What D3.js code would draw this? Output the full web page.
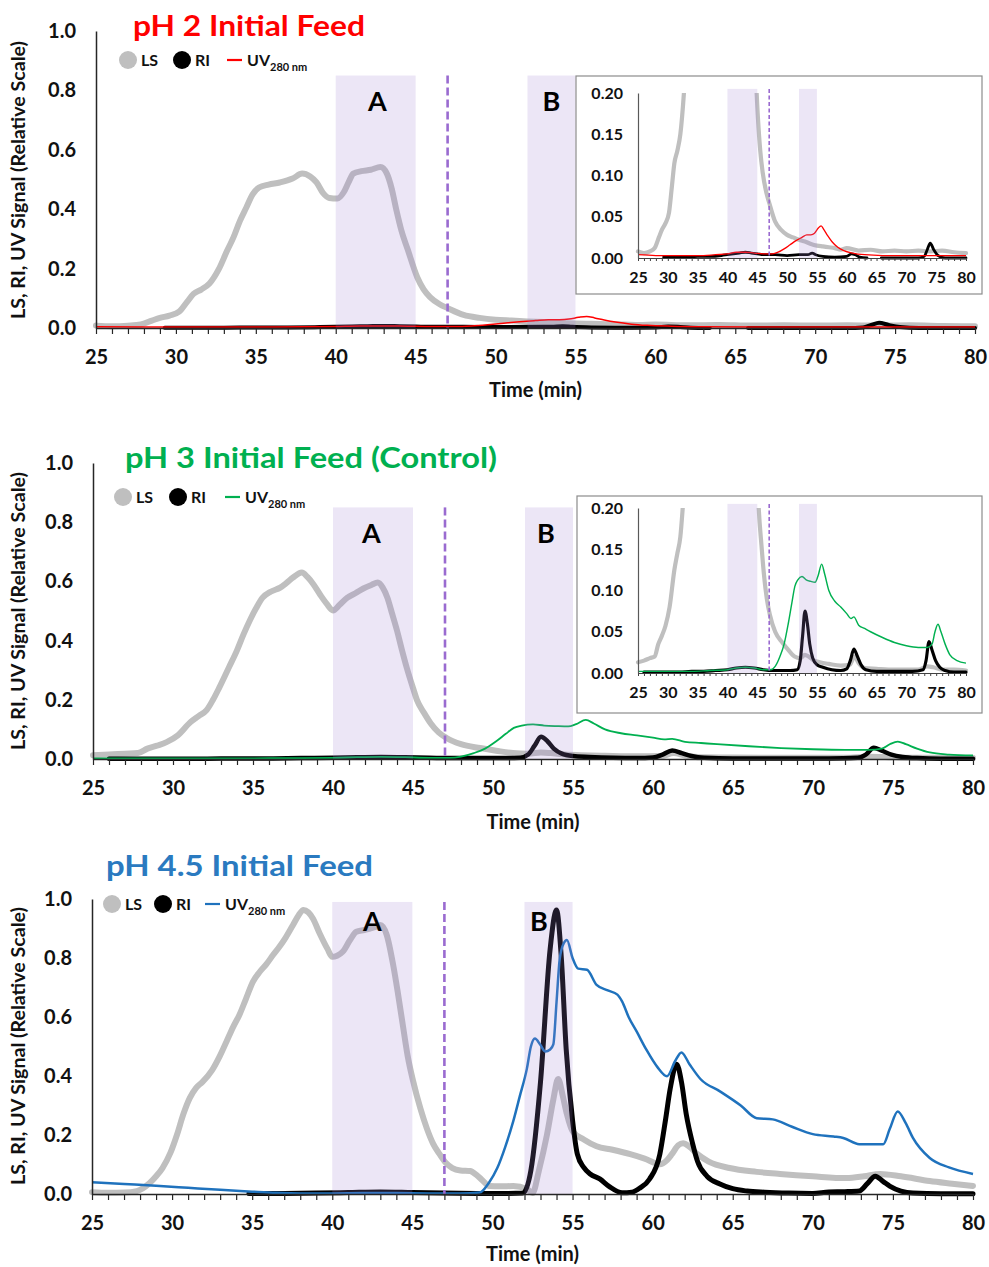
<!DOCTYPE html>
<html>
<head>
<meta charset="utf-8">
<script src="https://cdn.jsdelivr.net/npm/d3@7"></script>
<style>
  body { margin: 0; background: #fff; }
  svg text { font-family: Lato, "Open Sans", "Liberation Sans", sans-serif; font-weight: 700; }
</style>
</head>
<body>
<svg id="chart" width="989" height="1267"></svg>
<script>
// ---------- data: [time (min), relative signal] ----------
const panelTitles = ["pH 2 Initial Feed", "pH 3 Initial Feed (Control)", "pH 4.5 Initial Feed"];
const xTickValues = d3.range(25, 81, 1);
const yTicksMain = [0, 0.2, 0.4, 0.6, 0.8, 1.0];
const yTicksInset = [0, 0.05, 0.10, 0.15, 0.20];
const regionA = [40, 45];
const regionB = [52, 55];
const cutTime = 47;

// pH 2
const ph2LS = [[25,0.008],[26,0.006],[27,0.008],[27.8,0.012],[28.5,0.025],[29,0.034],[29.6,0.042],[30.2,0.055],[30.7,0.088],[31.1,0.115],[31.6,0.13],[32.1,0.15],[32.7,0.2],[33.2,0.26],[33.6,0.305],[34,0.36],[34.4,0.405],[34.8,0.45],[35.2,0.473],[35.8,0.483],[36.5,0.49],[37.3,0.503],[37.9,0.52],[38.4,0.51],[38.8,0.49],[39.2,0.455],[39.6,0.438],[40.1,0.436],[40.5,0.457],[40.8,0.49],[41.1,0.52],[41.6,0.528],[42.2,0.533],[42.8,0.542],[43.2,0.52],[43.5,0.47],[43.8,0.396],[44.1,0.33],[44.5,0.265],[45.1,0.171],[45.5,0.13],[45.9,0.104],[46.5,0.08],[47,0.067],[48,0.044],[49,0.034],[50,0.028],[51,0.025],[52,0.022],[53,0.02],[54,0.017],[55,0.015],[56,0.014],[57,0.013],[58,0.012],[59,0.01],[60,0.012],[62,0.009],[64,0.01],[66,0.008],[68,0.009],[70,0.008],[72,0.009],[74,0.008],[76,0.009],[78,0.007],[80,0.006]];
const ph2RI = [[29.3,0.001],[31,0.001],[33,0.001],[35,0.002],[37,0.002],[39,0.003],[40,0.004],[41,0.005],[42,0.006],[43,0.007],[44,0.006],[45,0.005],[46,0.004],[47,0.004],[48,0.004],[50,0.003],[52,0.004],[53.5,0.004],[54.2,0.006],[54.8,0.004],[56,0.002],[58,0.001],[60,0.002],[60.8,0.005],[61.4,0.004],[62.2,0.001],[63.4,0],[63.5,null],[65.7,null],[65.8,0],[68,0],[70,0],[72,0],[73,0.002],[73.5,0.01],[74,0.018],[74.6,0.01],[75.3,0.003],[76.5,0],[78,0],[80,0]];
const ph2UV = [[25,0.004],[28,0.003],[30,0.003],[33,0.003],[36,0.003],[38,0.004],[40,0.005],[41.5,0.007],[43,0.007],[44.5,0.006],[46,0.005],[47.5,0.005],[48.5,0.007],[49.5,0.011],[50.5,0.016],[51.5,0.021],[52.5,0.025],[53.3,0.028],[54,0.028],[54.6,0.03],[55.2,0.036],[55.7,0.039],[56.2,0.034],[56.8,0.027],[57.5,0.02],[58.5,0.013],[59.5,0.009],[61,0.006],[63,0.004],[66,0.003],[70,0.003],[74,0.003],[77,0.003],[80,0.003]];

// pH 3 (control)
const ph3LS = [[25,0.013],[26,0.015],[27,0.018],[27.8,0.02],[28.4,0.035],[29,0.045],[29.6,0.057],[30.3,0.08],[31.1,0.125],[31.6,0.145],[32.1,0.165],[32.5,0.2],[32.9,0.242],[33.5,0.31],[34,0.367],[34.4,0.42],[34.8,0.468],[35.2,0.51],[35.6,0.545],[36.1,0.565],[36.7,0.579],[37.1,0.595],[37.5,0.613],[38.05,0.63],[38.4,0.615],[38.75,0.592],[39.2,0.555],[39.6,0.525],[40,0.502],[40.4,0.52],[40.9,0.545],[41.4,0.56],[41.9,0.576],[42.4,0.588],[42.8,0.596],[43.1,0.58],[43.4,0.545],[43.7,0.49],[44,0.434],[44.3,0.37],[44.6,0.31],[45,0.24],[45.25,0.199],[45.7,0.155],[46.1,0.121],[46.6,0.09],[47.1,0.071],[48,0.05],[49.2,0.037],[50.2,0.028],[51.25,0.02],[52.2,0.018],[53,0.022],[53.6,0.02],[54.5,0.015],[55.5,0.013],[57,0.011],[59,0.009],[60.5,0.01],[61.3,0.02],[62,0.012],[63,0.006],[65,0.005],[67,0.004],[70,0.004],[72,0.004],[73.5,0.008],[74.5,0.007],[76,0.004],[78,0.004],[80,0.003]];
const ph3RI = [[26,0.001],[28,0.001],[30,0.001],[32,0.001],[34,0.002],[36,0.002],[38,0.003],[40,0.004],[41.5,0.006],[43,0.007],[44.5,0.006],[46,0.004],[47.5,0.003],[49,0.003],[50.5,0.003],[51.7,0.004],[52.2,0.015],[52.6,0.045],[53,0.075],[53.4,0.06],[53.8,0.035],[54.3,0.018],[55,0.01],[56,0.007],[57.5,0.004],[59,0.003],[60,0.005],[60.6,0.015],[61.2,0.029],[61.8,0.02],[62.4,0.01],[63.2,0.004],[65,0.002],[68,0.002],[71,0.002],[72.8,0.004],[73.3,0.015],[73.8,0.038],[74.3,0.028],[74.9,0.015],[75.6,0.007],[76.5,0.003],[78,0.001],[80,0.001]];
const ph3UV = [[25,0.002],[28,0.002],[31,0.002],[34,0.002],[37,0.003],[40,0.004],[41.5,0.006],[43,0.007],[44.5,0.006],[46,0.004],[47.3,0.004],[48,0.008],[48.8,0.02],[49.5,0.035],[50.2,0.06],[50.8,0.085],[51.3,0.105],[51.8,0.113],[52.5,0.117],[53.2,0.113],[54,0.111],[54.7,0.11],[55.2,0.118],[55.8,0.132],[56.3,0.12],[57,0.1],[58,0.087],[59,0.08],[60,0.072],[60.7,0.066],[61.2,0.068],[62,0.058],[63,0.054],[64,0.05],[66,0.043],[68,0.037],[70,0.033],[72,0.031],[73.5,0.031],[74.3,0.035],[74.8,0.05],[75.3,0.059],[75.8,0.05],[76.5,0.035],[77.3,0.022],[78.5,0.015],[80,0.012]];

// pH 4.5
const ph45LS = [[25,0.006],[26,0.004],[27,0.005],[27.8,0.01],[28.6,0.037],[29,0.06],[29.4,0.088],[29.9,0.14],[30.3,0.2],[30.7,0.27],[31.1,0.325],[31.5,0.36],[31.9,0.38],[32.5,0.42],[33,0.47],[33.4,0.517],[33.8,0.565],[34.2,0.607],[34.6,0.66],[35.05,0.72],[35.5,0.755],[35.9,0.78],[36.3,0.81],[36.7,0.838],[37.1,0.87],[37.55,0.912],[37.9,0.945],[38.2,0.963],[38.5,0.955],[38.8,0.933],[39.2,0.885],[39.7,0.831],[40,0.804],[40.3,0.808],[40.65,0.821],[41.1,0.86],[41.5,0.889],[42,0.895],[42.35,0.9],[42.7,0.905],[43,0.912],[43.4,0.878],[43.8,0.777],[44.1,0.68],[44.4,0.574],[44.7,0.47],[45.05,0.382],[45.5,0.29],[45.9,0.223],[46.3,0.17],[46.7,0.135],[47.1,0.105],[47.5,0.088],[48,0.08],[48.6,0.078],[49,0.065],[49.4,0.045],[49.8,0.027],[50.5,0.026],[51.3,0.027],[52.15,0.017],[52.5,0.003],[52.9,0.08],[53.4,0.2],[53.8,0.32],[54.1,0.39],[54.4,0.33],[54.65,0.27],[55,0.213],[55.7,0.185],[56.5,0.162],[57.5,0.15],[58.6,0.135],[59.5,0.12],[60.45,0.101],[60.9,0.115],[61.2,0.135],[61.6,0.165],[61.9,0.172],[62.3,0.16],[62.8,0.135],[63.5,0.11],[64.8,0.088],[66.5,0.075],[67.95,0.068],[70,0.06],[72.1,0.054],[73.2,0.06],[74.2,0.068],[75.5,0.06],[77.3,0.044],[78.7,0.035],[80,0.027]];
const ph45RI = [[34.8,0.002],[37,0.002],[39,0.003],[41,0.005],[43,0.007],[45,0.005],[47,0.003],[49,0.002],[51,0.002],[51.9,0.003],[52.4,0.08],[53,0.38],[53.6,0.83],[54,0.963],[54.3,0.8],[54.6,0.493],[55,0.25],[55.3,0.135],[55.7,0.09],[56.1,0.068],[56.7,0.051],[57.3,0.025],[58.1,0.004],[58.7,0.006],[59.2,0.02],[59.8,0.05],[60.45,0.135],[60.8,0.25],[61.1,0.358],[61.5,0.44],[61.8,0.38],[62.1,0.27],[62.5,0.17],[62.8,0.111],[63.4,0.06],[64.2,0.034],[65,0.018],[65.9,0.01],[67,0.006],[68.5,0.003],[70,0.002],[71,0.007],[72,0.008],[72.9,0.01],[73.4,0.035],[73.9,0.06],[74.4,0.042],[74.8,0.027],[75.5,0.01],[76.25,0.003],[78,0.001],[80,0.001]];
const ph45UV = [[25,0.04],[27,0.034],[29,0.028],[31,0.021],[33,0.014],[35,0.008],[36.5,0.004],[38,0.002],[40,0.002],[42,0.003],[44,0.003],[46,0.002],[48,0.002],[49.2,0.005],[49.8,0.04],[50.3,0.088],[50.8,0.16],[51.3,0.247],[51.7,0.33],[52.15,0.425],[52.4,0.5],[52.65,0.527],[53,0.505],[53.3,0.483],[53.6,0.49],[53.8,0.507],[54,0.65],[54.2,0.797],[54.45,0.85],[54.65,0.861],[55,0.8],[55.35,0.764],[55.9,0.76],[56.5,0.709],[57.2,0.69],[57.8,0.676],[58.1,0.652],[58.5,0.6],[59,0.551],[59.6,0.49],[60.3,0.43],[60.9,0.399],[61.4,0.45],[61.8,0.48],[62.3,0.44],[63,0.389],[64.2,0.348],[65.5,0.3],[66.5,0.257],[67.5,0.253],[68.7,0.228],[70,0.203],[71.3,0.195],[71.9,0.19],[72.9,0.169],[74.4,0.169],[74.8,0.22],[75.3,0.28],[75.8,0.24],[76.25,0.19],[77.3,0.122],[78.5,0.09],[80,0.068]];

// ---------- layout and styling ----------
const LS_COLOR = "#bfbfbf";
const RI_COLOR = "#000000";
const BAND_FILL = "rgba(160,130,210,0.2)";
const CUT_COLOR = "#9a6bd0";

const panels = [
  { series: { ls: ph2LS, ri: ph2RI, uv: ph2UV }, uvColor: "#ff0000", titleColor: "#ff0000",
    x0: 96, x1: 975, yBase: 328, yOne: 31, bandTop: 0.85,
    title: { x: 133, y: 36, w: 232 }, legend: { y: 60, ls: 128, ri: 182, uv: 227 },
    labA: 42.6, labB: 53.5, labY: 111, xTitleY: 397, yTitleY: 180,
    lsW: 6, riW: 4, uvW: 1.5,
    inset: { box: [576, 76, 406, 218], x0: 638, x1: 966, yBase: 258, yTop: 93 } },
  { series: { ls: ph3LS, ri: ph3RI, uv: ph3UV }, uvColor: "#00b050", titleColor: "#00b050",
    x0: 93, x1: 973, yBase: 759, yOne: 463, bandTop: 0.85,
    title: { x: 125, y: 468, w: 372 }, legend: { y: 497, ls: 123, ri: 178, uv: 225 },
    labA: 42.4, labB: 53.3, labY: 543, xTitleY: 829, yTitleY: 611,
    lsW: 6, riW: 4.5, uvW: 1.8,
    inset: { box: [577, 496, 405, 217], x0: 638, x1: 966, yBase: 673, yTop: 508 } },
  { series: { ls: ph45LS, ri: ph45RI, uv: ph45UV }, uvColor: "#1f72bd", titleColor: "#2a7ac0",
    x0: 92, x1: 973, yBase: 1194, yOne: 899, bandTop: 0.99,
    title: { x: 106, y: 876, w: 267 }, legend: { y: 904, ls: 112, ri: 163, uv: 205 },
    labA: 42.5, labB: 52.9, labY: 931, xTitleY: 1261, yTitleY: 1046,
    lsW: 6, riW: 5, uvW: 2.5,
    inset: null }
];

const svg = d3.select("#chart");
const defs = svg.append("defs");

function makeLine(x, y) {
  return d3.line()
    .defined(d => d[1] !== null)
    .x(d => x(d[0]))
    .y(d => y(d[1]))
    .curve(d3.curveMonotoneX);
}

function drawTraces(g, s, x, y, p, scale) {
  const line = makeLine(x, y);
  g.append("path").datum(s.ls).attr("d", line)
    .attr("fill", "none").attr("stroke", LS_COLOR)
    .attr("stroke-width", p.lsW * scale).attr("stroke-linejoin", "round").attr("stroke-linecap", "round");
  g.append("path").datum(s.ri).attr("d", line)
    .attr("fill", "none").attr("stroke", RI_COLOR)
    .attr("stroke-width", p.riW * scale).attr("stroke-linejoin", "round").attr("stroke-linecap", "round");
  g.append("path").datum(s.uv).attr("d", line)
    .attr("fill", "none").attr("stroke", p.uvColor)
    .attr("stroke-width", Math.max(1.3, p.uvW * (scale < 1 ? 0.8 : 1))).attr("stroke-linejoin", "round");
}

function drawBands(g, x, y, top) {
  [regionA, regionB].forEach(r => {
    g.append("rect")
      .attr("x", x(r[0])).attr("width", x(r[1]) - x(r[0]))
      .attr("y", y(top)).attr("height", y(0) - y(top))
      .attr("fill", BAND_FILL);
  });
}

function styleAxisText(sel, size) {
  sel.attr("font-family", null);
  sel.selectAll("text").attr("font-size", size).attr("fill", "#111")
    .style("font-family", "Lato, 'Open Sans', sans-serif").style("font-weight", 700);
}

panels.forEach((p, i) => {
  const g = svg.append("g");
  const x = d3.scaleLinear().domain([25, 80]).range([p.x0, p.x1]);
  const y = d3.scaleLinear().domain([0, 1]).range([p.yBase, p.yOne]);

  // traces, then translucent fraction bands over them
  drawTraces(g, p.series, x, y, p, 1);
  drawBands(g, x, y, p.bandTop);

  // cut-off marker
  g.append("line")
    .attr("x1", x(cutTime)).attr("x2", x(cutTime))
    .attr("y1", y(p.bandTop)).attr("y2", y(0))
    .attr("stroke", CUT_COLOR).attr("stroke-width", 2.6).attr("stroke-dasharray", "8,4");

  // fraction labels
  g.append("text").attr("x", x(p.labA)).attr("y", p.labY).attr("text-anchor", "middle")
    .attr("font-size", 27).attr("fill", "#000").text("A");
  g.append("text").attr("x", x(p.labB)).attr("y", p.labY).attr("text-anchor", "middle")
    .attr("font-size", 27).attr("fill", "#000").text("B");

  // axes
  const xAxis = g.append("g").attr("transform", `translate(0,${p.yBase})`)
    .call(d3.axisBottom(x).tickValues(xTickValues).tickSize(6).tickSizeOuter(0).tickPadding(16)
      .tickFormat(d => d % 5 === 0 ? d : ""));
  xAxis.select(".domain").attr("stroke", "#262626").attr("stroke-width", 1.5);
  xAxis.selectAll(".tick line").attr("stroke", "#262626").attr("stroke-width", 1.2);
  styleAxisText(xAxis, 20);

  const yAxis = g.append("g").attr("transform", `translate(${p.x0},0)`)
    .call(d3.axisLeft(y).tickValues(yTicksMain).tickSize(0).tickSizeOuter(0).tickPadding(20)
      .tickFormat(d3.format(".1f")));
  yAxis.select(".domain").attr("stroke", "#262626").attr("stroke-width", 1.5);
  styleAxisText(yAxis, 20);

  // axis titles
  g.append("text").attr("x", (p.x0 + p.x1) / 2).attr("y", p.xTitleY)
    .attr("text-anchor", "middle").attr("font-size", 20).attr("fill", "#111").text("Time (min)");
  g.append("text")
    .attr("transform", `translate(25,${p.yTitleY}) rotate(-90)`)
    .attr("text-anchor", "middle").attr("font-size", 19).attr("fill", "#111")
    .attr("textLength", 278).attr("lengthAdjust", "spacingAndGlyphs")
    .text("LS, RI, UV Signal (Relative Scale)");

  // panel title
  g.append("text").attr("x", p.title.x).attr("y", p.title.y)
    .attr("font-size", 28).attr("fill", p.titleColor)
    .attr("textLength", p.title.w).attr("lengthAdjust", "spacingAndGlyphs")
    .text(panelTitles[i]);

  // legend
  const L = p.legend;
  const lg = g.append("g");
  lg.append("circle").attr("cx", L.ls).attr("cy", L.y).attr("r", 9).attr("fill", LS_COLOR);
  lg.append("text").attr("x", L.ls + 13).attr("y", L.y + 5.5).attr("font-size", 16).attr("fill", "#111").text("LS");
  lg.append("circle").attr("cx", L.ri).attr("cy", L.y).attr("r", 9).attr("fill", RI_COLOR);
  lg.append("text").attr("x", L.ri + 13).attr("y", L.y + 5.5).attr("font-size", 16).attr("fill", "#111").text("RI");
  lg.append("line").attr("x1", L.uv).attr("x2", L.uv + 15).attr("y1", L.y).attr("y2", L.y)
    .attr("stroke", p.uvColor).attr("stroke-width", 2.2);
  const uvText = lg.append("text").attr("x", L.uv + 20).attr("y", L.y + 5.5).attr("font-size", 16).attr("fill", "#111");
  uvText.append("tspan").text("UV");
  uvText.append("tspan").attr("dy", 5).attr("font-size", 11).text("280 nm");

  // inset zoom on the 0–0.20 range
  if (p.inset) {
    const I = p.inset;
    const ig = g.append("g");
    ig.append("rect").attr("x", I.box[0]).attr("y", I.box[1]).attr("width", I.box[2]).attr("height", I.box[3])
      .attr("fill", "#fff").attr("stroke", "#8c8c8c").attr("stroke-width", 1.2);
    const ix = d3.scaleLinear().domain([25, 80]).range([I.x0, I.x1]);
    const iy = d3.scaleLinear().domain([0, 0.2]).range([I.yBase, I.yTop]);
    const clipId = "inset-clip-" + i;
    defs.append("clipPath").attr("id", clipId).append("rect")
      .attr("x", I.x0 - 4).attr("y", I.yTop).attr("width", I.x1 - I.x0 + 8).attr("height", I.yBase - I.yTop + 4);
    const plot = ig.append("g").attr("clip-path", `url(#${clipId})`);
    drawTraces(plot, p.series, ix, iy, p, 0.7);
    drawBands(ig, ix, iy, 0.205);
    ig.append("line")
      .attr("x1", ix(cutTime)).attr("x2", ix(cutTime))
      .attr("y1", iy(0.205)).attr("y2", iy(0))
      .attr("stroke", CUT_COLOR).attr("stroke-width", 1.6).attr("stroke-dasharray", "4,2.5");

    const ixAxis = ig.append("g").attr("transform", `translate(0,${I.yBase})`)
      .call(d3.axisBottom(ix).tickValues(xTickValues).tickSize(3).tickSizeOuter(0).tickPadding(11)
        .tickFormat(d => d % 5 === 0 ? d : ""));
    ixAxis.select(".domain").attr("stroke", "#404040").attr("stroke-width", 1.2);
    ixAxis.selectAll(".tick line").attr("stroke", "#404040");
    styleAxisText(ixAxis, 16);

    const iyAxis = ig.append("g").attr("transform", `translate(${I.x0},0)`)
      .call(d3.axisLeft(iy).tickValues(yTicksInset).tickSize(0).tickSizeOuter(0).tickPadding(15)
        .tickFormat(d3.format(".2f")));
    iyAxis.select(".domain").attr("stroke", "#595959").attr("stroke-width", 1.2);
    styleAxisText(iyAxis, 16);
  }
});
</script>
</body>
</html>
